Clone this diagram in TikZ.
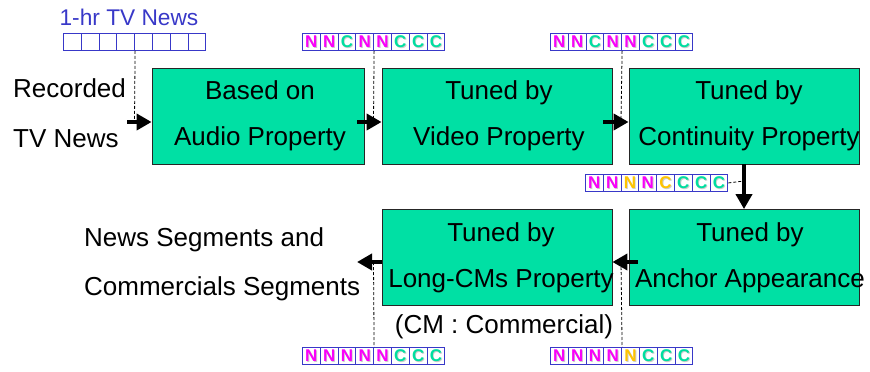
\documentclass[tikz,border=0pt]{standalone}
\usepackage{fontspec}
\setmainfont{Liberation Sans}
\usetikzlibrary{arrows.meta}
\definecolor{boxgreen}{RGB}{0,224,164}
\definecolor{cellblue}{RGB}{56,56,200}
\definecolor{nmag}{RGB}{250,0,250}
\definecolor{cgreen}{RGB}{0,222,160}
\definecolor{nyel}{RGB}{255,196,0}
\newcommand\shd[2]{\rlap{\kern0.9pt\raisebox{-0.9pt}{\textcolor{black!20}{#2}}}\textcolor{#1}{#2}}
\newcommand\Nm{\shd{nmag}{N}}
\newcommand\Ny{\shd{nyel}{N}}
\newcommand\Cg{\shd{cgreen}{C}}
\newcommand\Cy{\shd{nyel}{C}}
\newcommand\Ex{\strut}
\newcommand\rt[2]{\hspace*{#1}#2\hspace*{-#1}}
\newcommand\mystrip[4]{%
  \foreach \L [count=\i] in {#4} {
    \node[cell, anchor=north west] (#1-\i) at ({#2+(\i-1)*17.8}, #3) {\L};
  }%
}
\tikzset{
  stage/.style={draw=black!85, line width=0.8pt, fill=boxgreen, minimum height=96pt,
    align=center, font=\fontsize{26}{46}\selectfont, inner sep=0pt},
  flow/.style={line width=4pt, -{Triangle[length=15pt,width=16pt]}},
  trace/.style={dash pattern=on 3pt off 2pt, line width=0.8pt},
  cell/.style={draw=cellblue, line width=0.9pt, fill=white, minimum width=17.8pt,
    minimum height=17pt, inner sep=0pt, font=\fontsize{17}{17}\bfseries\selectfont},
  lbl/.style={font=\fontsize{26}{50}\selectfont, align=left, inner sep=0pt},
}
\begin{document}
\begin{tikzpicture}[x=1pt, y=-1pt]
\useasboundingbox (0,0) rectangle (870,372);

% stages
\node[stage, minimum width=212pt] (b1) at (258,116) {\rt{2pt}{Based on}\\\rt{2pt}{Audio Property}};
\node[stage, minimum width=230pt] (b2) at (497,116) {\rt{2pt}{Tuned by}\\\rt{2pt}{Video Property}};
\node[stage, minimum width=230pt] (b3) at (744,116) {\rt{5pt}{Tuned by}\\\rt{5pt}{Continuity Property}};
\node[stage, minimum width=230pt] (b4) at (744,257.5) {\rt{6pt}{Tuned by}\\\rt{6pt}{Anchor Appearance}};
\node[stage, minimum width=230pt] (b5) at (497,257.5) {\rt{4pt}{Tuned by}\\\rt{4pt}{Long-CMs Property}};

% labels
\node[lbl, anchor=west] (rec) at (13,113.5) {Recorded\\TV News};
\node[lbl, anchor=west, font=\fontsize{26}{49}\selectfont] (res) at (84,264.5) {News Segments and\\Commercials Segments};
\node[inner sep=0pt, font=\fontsize{26}{30}\selectfont] (cm) at (504,327) {(CM : Commercial)};
\node[inner sep=0pt, text=cellblue, font=\fontsize{22.7}{26}\selectfont] (hr) at (129,17) {1-hr TV News};

% strips
\mystrip{s1}{63}{33}{\Ex,\Ex,\Ex,\Ex,\Ex,\Ex,\Ex,\Ex}
\mystrip{s2}{302}{33}{\Nm,\Nm,\Cg,\Nm,\Nm,\Cg,\Cg,\Cg}
\mystrip{s3}{550}{33}{\Nm,\Nm,\Cg,\Nm,\Nm,\Cg,\Cg,\Cg}
\mystrip{s4}{585}{174}{\Nm,\Nm,\Ny,\Nm,\Cy,\Cg,\Cg,\Cg}
\mystrip{s5}{302}{347}{\Nm,\Nm,\Nm,\Nm,\Nm,\Cg,\Cg,\Cg}
\mystrip{s6}{550}{347}{\Nm,\Nm,\Nm,\Nm,\Ny,\Cg,\Cg,\Cg}

% flow arrows
\coordinate (in) at (127,122);
\coordinate (out) at (357,262);
\draw[flow] (in) -- (b1.west |- in);
\draw[flow] ([xshift=-7pt,yshift=-6pt]b1.east) -- ([yshift=-6pt]b2.west);
\draw[flow] ([xshift=-9pt,yshift=-6pt]b2.east) -- ([yshift=-6pt]b3.west);
\draw[flow] (b3.south) -- (b4.north);
\draw[flow] ([xshift=9pt,yshift=-4.5pt]b4.west) -- ([yshift=-4.5pt]b5.east);
\draw[flow] (b5.west |- out) -- (out);

% dashed traces
\coordinate (t1) at (134.5,120);
\coordinate (t2) at (373.5,120);
\coordinate (t3) at (621,120);
\coordinate (t4) at (744,181);
\coordinate (t5) at (373.5,262);
\coordinate (t6) at (621,262);
\draw[trace] (s1-4.south east) -- (t1);
\draw[trace] (s2-4.south east) -- (t2);
\draw[trace] (s3-4.south east) -- (t3);
\draw[trace] (s4-8.east) -- (t4);
\draw[trace] (t5) -- (s5-4.north east);
\draw[trace] (t6) -- (s6-4.north east);
\end{tikzpicture}
\end{document}
